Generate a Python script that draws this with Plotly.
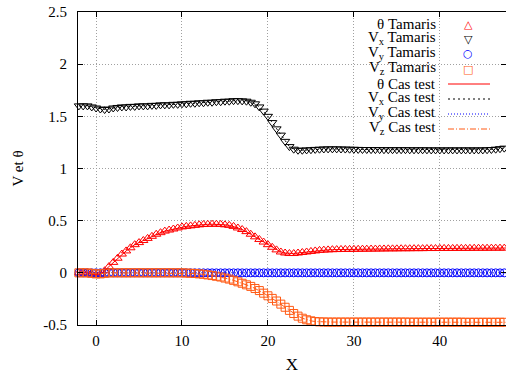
import plotly.graph_objects as go

x = [-2, -1.5, -1, -0.5, 0, 0.5, 1, 1.5, 2, 2.5,
     3, 3.5, 4, 4.5, 5, 5.5, 6, 6.5, 7, 7.5,
     8, 8.5, 9, 9.5, 10, 10.5, 11, 11.5, 12, 12.5,
     13, 13.5, 14, 14.5, 15, 15.5, 16, 16.5, 17, 17.5,
     18, 18.5, 19, 19.5, 20, 20.5, 21, 21.5, 22, 22.5,
     23, 23.5, 24, 24.5, 25, 25.5, 26, 26.5, 27, 27.5,
     28, 28.5, 29, 29.5, 30, 30.5, 31, 31.5, 32, 32.5,
     33, 33.5, 34, 34.5, 35, 35.5, 36, 36.5, 37, 37.5,
     38, 38.5, 39, 39.5, 40, 40.5, 41, 41.5, 42, 42.5,
     43, 43.5, 44, 44.5, 45, 45.5, 46, 46.5, 47, 47.5, 48]

theta = [0.00, 0.00, 0.00, -0.01, -0.02, -0.01, 0.02, 0.06, 0.10, 0.14,
         0.18, 0.21, 0.24, 0.27, 0.29, 0.31, 0.33, 0.35, 0.37, 0.385,
         0.40, 0.41, 0.42, 0.43, 0.44, 0.445, 0.45, 0.455, 0.46, 0.463,
         0.465, 0.466, 0.466, 0.464, 0.46, 0.455, 0.445, 0.43, 0.415, 0.395,
         0.37, 0.345, 0.32, 0.295, 0.27, 0.245, 0.22, 0.20, 0.19, 0.185,
         0.185, 0.19, 0.195, 0.20, 0.205, 0.21, 0.215, 0.218, 0.22, 0.222,
         0.223, 0.224, 0.225, 0.225, 0.226, 0.226, 0.227, 0.227, 0.228, 0.228,
         0.229, 0.229, 0.23, 0.23, 0.23, 0.231, 0.231, 0.231, 0.232, 0.232,
         0.232, 0.233, 0.233, 0.233, 0.234, 0.234, 0.234, 0.234, 0.235, 0.235,
         0.235, 0.235, 0.236, 0.236, 0.236, 0.236, 0.237, 0.237, 0.237, 0.237, 0.238]

vx = [1.60, 1.60, 1.60, 1.59, 1.58, 1.57, 1.565, 1.57, 1.58, 1.585,
      1.59, 1.59, 1.595, 1.595, 1.60, 1.60, 1.60, 1.605, 1.605, 1.61,
      1.61, 1.61, 1.615, 1.615, 1.62, 1.62, 1.625, 1.625, 1.63, 1.63,
      1.635, 1.635, 1.64, 1.64, 1.645, 1.645, 1.65, 1.65, 1.648, 1.645,
      1.635, 1.62, 1.59, 1.55, 1.50, 1.44, 1.38, 1.32, 1.26, 1.21,
      1.185, 1.175, 1.175, 1.178, 1.18, 1.183, 1.185, 1.187, 1.188, 1.188,
      1.188, 1.187, 1.186, 1.185, 1.184, 1.183, 1.182, 1.182, 1.181, 1.181,
      1.181, 1.18, 1.18, 1.18, 1.18, 1.18, 1.18, 1.179, 1.179, 1.179,
      1.179, 1.179, 1.178, 1.178, 1.178, 1.178, 1.178, 1.178, 1.178, 1.178,
      1.178, 1.178, 1.178, 1.178, 1.178, 1.18, 1.182, 1.185, 1.19, 1.195, 1.20]

vy = [0.0] * 101

vz = [0.0, 0.0, 0.0, -0.005, -0.01, -0.01, -0.005, 0.0, 0.0, 0.0,
      0.0, 0.0, 0.0, 0.0, 0.0, 0.0, 0.0, 0.0, 0.0, 0.0,
      0.0, 0.0, 0.0, 0.0, 0.0, -0.002, -0.004, -0.006, -0.01, -0.014,
      -0.02, -0.026, -0.033, -0.04, -0.05, -0.06, -0.072, -0.086, -0.10, -0.115,
      -0.13, -0.15, -0.17, -0.195, -0.22, -0.245, -0.27, -0.30, -0.33, -0.36,
      -0.39, -0.415, -0.435, -0.45, -0.46, -0.467, -0.47, -0.471, -0.472, -0.472,
      -0.472, -0.472, -0.472, -0.472, -0.472, -0.472, -0.472, -0.472, -0.472, -0.472,
      -0.472, -0.472, -0.472, -0.472, -0.472, -0.472, -0.472, -0.473, -0.473, -0.473,
      -0.473, -0.473, -0.473, -0.473, -0.473, -0.473, -0.473, -0.473, -0.473, -0.473,
      -0.474, -0.474, -0.474, -0.474, -0.474, -0.474, -0.474, -0.474, -0.474, -0.474, -0.474]

x_ticks = [0, 10, 20, 30, 40]
x_ticklabels = ["0", "10", "20", "30", "40"]
y_ticks = [-0.5, 0, 0.5, 1, 1.5, 2, 2.5]
y_ticklabels = ["-0.5", "0", "0.5", "1", "1.5", "2", "2.5"]

RED = "#ff0000"
BLACK = "#000000"
BLUE = "#0000ff"
ORANGE = "#ff5a14"
FONT = "Liberation Serif"

fig = go.Figure()

# (name, data, colour, marker symbol, legend glyph)
markers = [
    ("θ Tamaris", theta, RED, "triangle-up-open", "△"),
    ("V<sub>x</sub> Tamaris", vx, BLACK, "triangle-down-open", "▽"),
    ("V<sub>y</sub> Tamaris", vy, BLUE, "circle-open", "○"),
    ("V<sub>z</sub> Tamaris", vz, ORANGE, "square-open", "□"),
]
for name, y, c, sym, _ in markers:
    fig.add_trace(go.Scatter(x=x, y=y, mode="markers", name=name, cliponaxis=False,
                             showlegend=False,
                             marker=dict(symbol=sym, size=8, color=c, line=dict(width=1, color=c))))

lines = [
    ("θ Cas test", theta, RED, "solid"),
    ("V<sub>x</sub> Cas test", vx, BLACK, "2px,3px"),
    ("V<sub>y</sub> Cas test", vy, BLUE, "1px,2px"),
    ("V<sub>z</sub> Cas test", vz, ORANGE, "6px,2px,1px,2px"),
]
for name, y, c, dash in lines:
    fig.add_trace(go.Scatter(x=x, y=y, mode="lines", name=name, showlegend=False,
                             line=dict(color=c, width=1, dash=dash)))

# legend drawn gnuplot-style: text right-aligned, key on the right
PL, PR, PT, PB = 78, 506, 12, 325
def px(v):
    return (v - PL) / (PR - PL)
def py(v):
    return (PB - v) / (PB - PT)

row_y = [24, 39, 54, 69, 84, 99, 114, 129]
annotations = []
shapes = []
for i, (name, _, c, _, glyph) in enumerate(markers):
    yy = row_y[i] - (1 if "<sub>" in name else 0)
    annotations.append(dict(text=name, x=px(438), y=py(yy), xref="paper", yref="paper",
                            xanchor="right", yanchor="middle", showarrow=False,
                            font=dict(family=FONT, size=15, color="black")))
    annotations.append(dict(text=glyph, x=px(468), y=py(row_y[i]), xref="paper", yref="paper",
                            xanchor="center", yanchor="middle", showarrow=False,
                            font=dict(family="DejaVu Sans", size=11, color=c)))
for j, (name, _, c, dash) in enumerate(lines):
    i = j + 4
    yy = row_y[i] - (1 if "<sub>" in name else 0)
    annotations.append(dict(text=name, x=px(438), y=py(yy), xref="paper", yref="paper",
                            xanchor="right", yanchor="middle", showarrow=False,
                            font=dict(family=FONT, size=15, color="black")))
    shapes.append(dict(type="line", xref="paper", yref="paper",
                       x0=px(448), x1=px(490), y0=py(row_y[i]), y1=py(row_y[i]),
                       line=dict(color=c, width=1, dash=dash)))

# y-axis title, placed like gnuplot's
annotations.append(dict(text="V et θ", x=px(17), y=0.5, xref="paper", yref="paper",
                        xanchor="center", yanchor="middle", textangle=-90, showarrow=False,
                        font=dict(family=FONT, size=15, color="black")))

fig.update_layout(
    width=506, height=374,
    margin=dict(l=78, r=0, t=12, b=49),
    paper_bgcolor="white", plot_bgcolor="white",
    font=dict(family=FONT, size=15, color="black"),
    showlegend=False,
    annotations=annotations,
    shapes=shapes,
)
fig.update_xaxes(range=[-2.1, 47.7], tickvals=x_ticks, ticktext=x_ticklabels,
                 showgrid=True, gridcolor="#a0a0a0", griddash="1px,2px", gridwidth=1,
                 showline=True, linecolor="black", linewidth=1, mirror="ticks",
                 ticks="inside", ticklen=5, tickcolor="black", zeroline=False,
                 ticklabelstandoff=2,
                 title=dict(text="X", font=dict(size=17), standoff=10))
fig.update_yaxes(range=[-0.5, 2.5], tickvals=y_ticks, ticktext=y_ticklabels,
                 showgrid=True, gridcolor="#a0a0a0", griddash="1px,2px", gridwidth=1,
                 showline=True, linecolor="black", linewidth=1, mirror="ticks",
                 ticks="inside", ticklen=5, tickcolor="black", zeroline=False,
                 ticklabelstandoff=7)

fig.write_html("out.html", config={"displayModeBar": False},
               post_script="document.body.style.margin='0';")
